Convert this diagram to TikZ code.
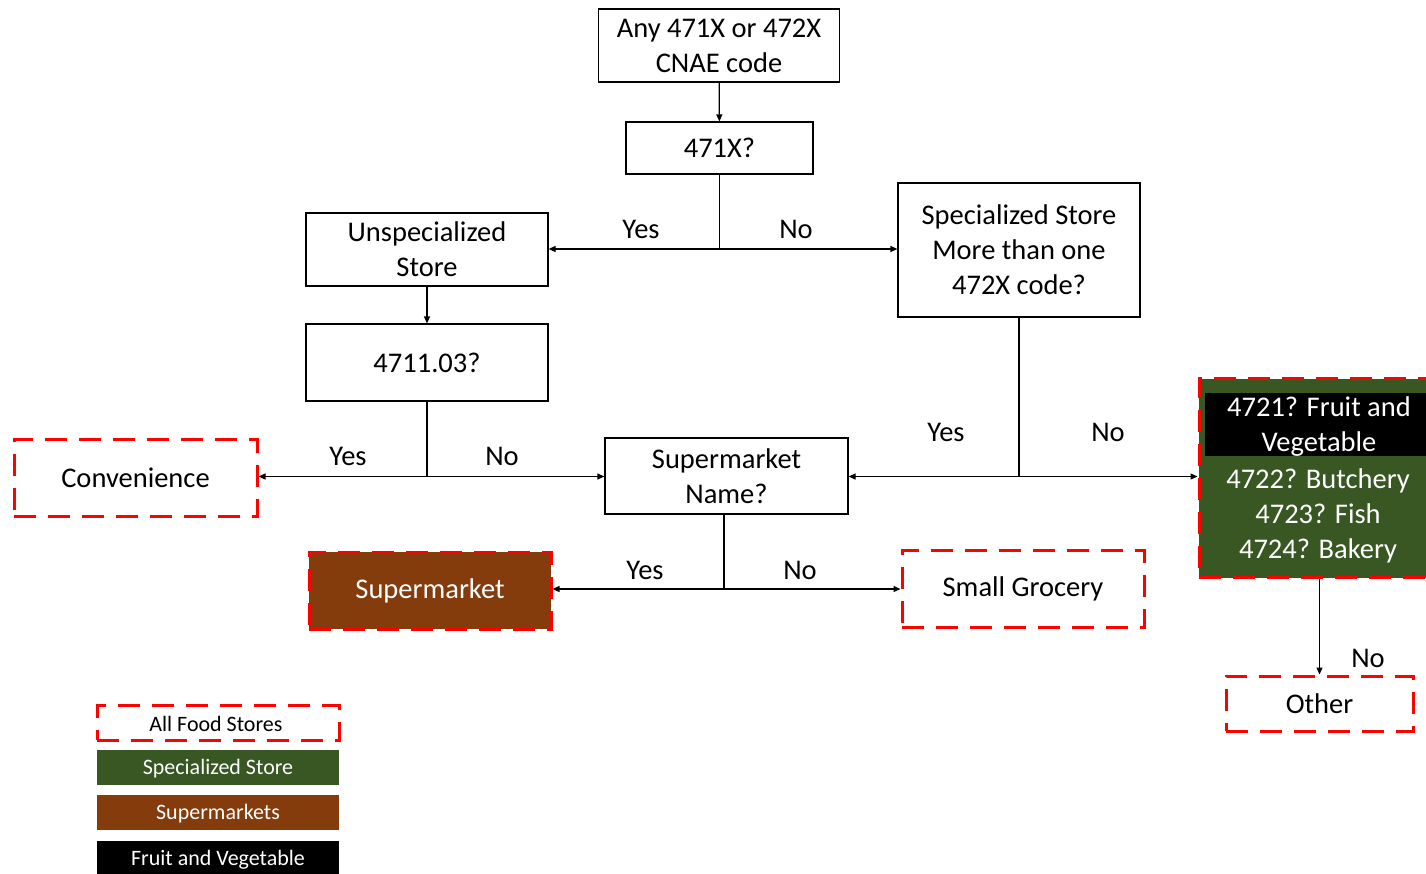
\documentclass[tikz,border=0pt]{standalone}
\usepackage{fontspec}
\setmainfont{Carlito}
\usetikzlibrary{arrows.meta}
\newcommand\bigfs{\fontsize{28.5}{35}\selectfont}
\newcommand\smallfs{\fontsize{22}{25}\selectfont}
\definecolor{sgreen}{HTML}{385723}
\definecolor{sbrown}{HTML}{843C0C}
\definecolor{sred}{HTML}{FF0000}
\begin{document}
\begin{tikzpicture}[x=1pt,y=-1pt,
  box/.style={draw=black, line width=1.2, minimum width=242, align=center, font=\bigfs, inner sep=0pt},
  allfood/.style={draw=sred, line width=3, dash pattern=on 22 off 12, minimum width=242, align=center, font=\bigfs, inner sep=0pt},
  legend/.style={minimum width=242, minimum height=35, align=center, font=\smallfs, inner sep=0pt},
  legtext/.style={font=\smallfs, inner sep=0pt},
  conn/.style={line width=1.2, draw=black},
  arr/.style={conn, -{Triangle[length=7pt,width=6pt]}},
  lbl/.style={font=\bigfs, inner sep=0pt}
]
\useasboundingbox (0,0) rectangle (1426,873);

% decision nodes
\node[box, minimum width=241, minimum height=73] (top) at (719,45.5) {Any 471X or 472X\\CNAE code};
\node[box, minimum width=187, minimum height=52] (q471) at (719.5,148) {471X?};
\node[box, minimum height=73] (unspec) at (427,249.5) {Unspecialized\\Store};
\node[box, minimum height=134] (spec) at (1019,250) {Specialized Store\\More than one\\472X code?};
\node[box, minimum height=77] (q4711) at (427,362.5) {4711.03?};
\node[box, minimum width=243, minimum height=76] (supname) at (726.5,476) {Supermarket\\Name?};

% outcome nodes
\node[allfood, minimum width=243, minimum height=77] (conv) at (135.5,477.5) {Convenience};
\node[allfood, fill=sbrown, text=white, minimum height=77] (superm) at (430,590.5) {Supermarket};
\node[allfood, minimum height=77] (grocery) at (1023,588.5) {Small Grocery};
\node[allfood, fill=sgreen, minimum height=199] (spc) at (1320,478) {};
\node[fill=black, minimum width=230, minimum height=63, inner sep=0pt] (fruit) at (1320,424.5) {};
\node[text=white, align=center, font=\bigfs, inner sep=0pt] (fruittxt) at (1319,426.5) {4721? Fruit and\\Vegetable};
\node[text=white, align=center, font=\bigfs, inner sep=0pt] (others) at (1318,515.5) {4722? Butchery\\4723? Fish\\4724? Bakery};
\node[allfood, minimum width=187, minimum height=55] (other) at (1319.5,703.5) {Other};

% connectors
\draw[arr] (top) -- (q471);
\coordinate (j1) at (q471.south |- 0,249);
\draw[conn] (q471.south) -- (j1);
\draw[arr] (j1) -- (unspec.east |- j1);
\draw[arr] (j1) -- (spec.west |- j1);
\node[lbl] at (641,229) {Yes};
\node[lbl] at (796,229) {No};

\draw[arr] (unspec) -- (q4711);
\coordinate (j2) at (q4711.south |- 0,476.5);
\draw[conn] (q4711.south) -- (j2);
\draw[arr] (j2) -- (conv.east |- j2);
\draw[arr] (j2) -- (supname.west |- j2);
\node[lbl] at (348,456) {Yes};
\node[lbl] at (502,456) {No};

\coordinate (j3) at (spec.south |- 0,476.5);
\draw[conn] (spec.south) -- (j3);
\draw[arr] (j3) -- (supname.east |- j3);
\draw[arr] (j3) -- (spc.west |- j3);
\node[lbl] at (946,432) {Yes};
\node[lbl] at (1108,432) {No};

\coordinate (j4) at (724,589);
\draw[conn] (724,514) -- (j4);
\draw[arr] (j4) -- (superm.east |- j4);
\draw[arr] (j4) -- (grocery.west |- j4);
\node[lbl] at (645,570) {Yes};
\node[lbl] at (800,570) {No};

\draw[arr] (spc.south -| other) -- (other.north);
\node[lbl] at (1368,658) {No};

% legend
\node[legend, draw=sred, line width=3, dash pattern=on 22 off 12] (l1) at (218,722.5) {};
\node[legtext] (l1t) at (216,723.5) {All Food Stores};
\node[legend, fill=sgreen] (l2) at (218,767.5) {};
\node[legtext, text=white] (l2t) at (218,769) {Specialized Store};
\node[legend, fill=sbrown] (l3) at (218,812.5) {};
\node[legtext, text=white] (l3t) at (218,814) {Supermarkets};
\node[legend, fill=black] (l4) at (218,858) {};
\node[legtext, text=white] (l4t) at (218,859.5) {Fruit and Vegetable};
\end{tikzpicture}
\end{document}
